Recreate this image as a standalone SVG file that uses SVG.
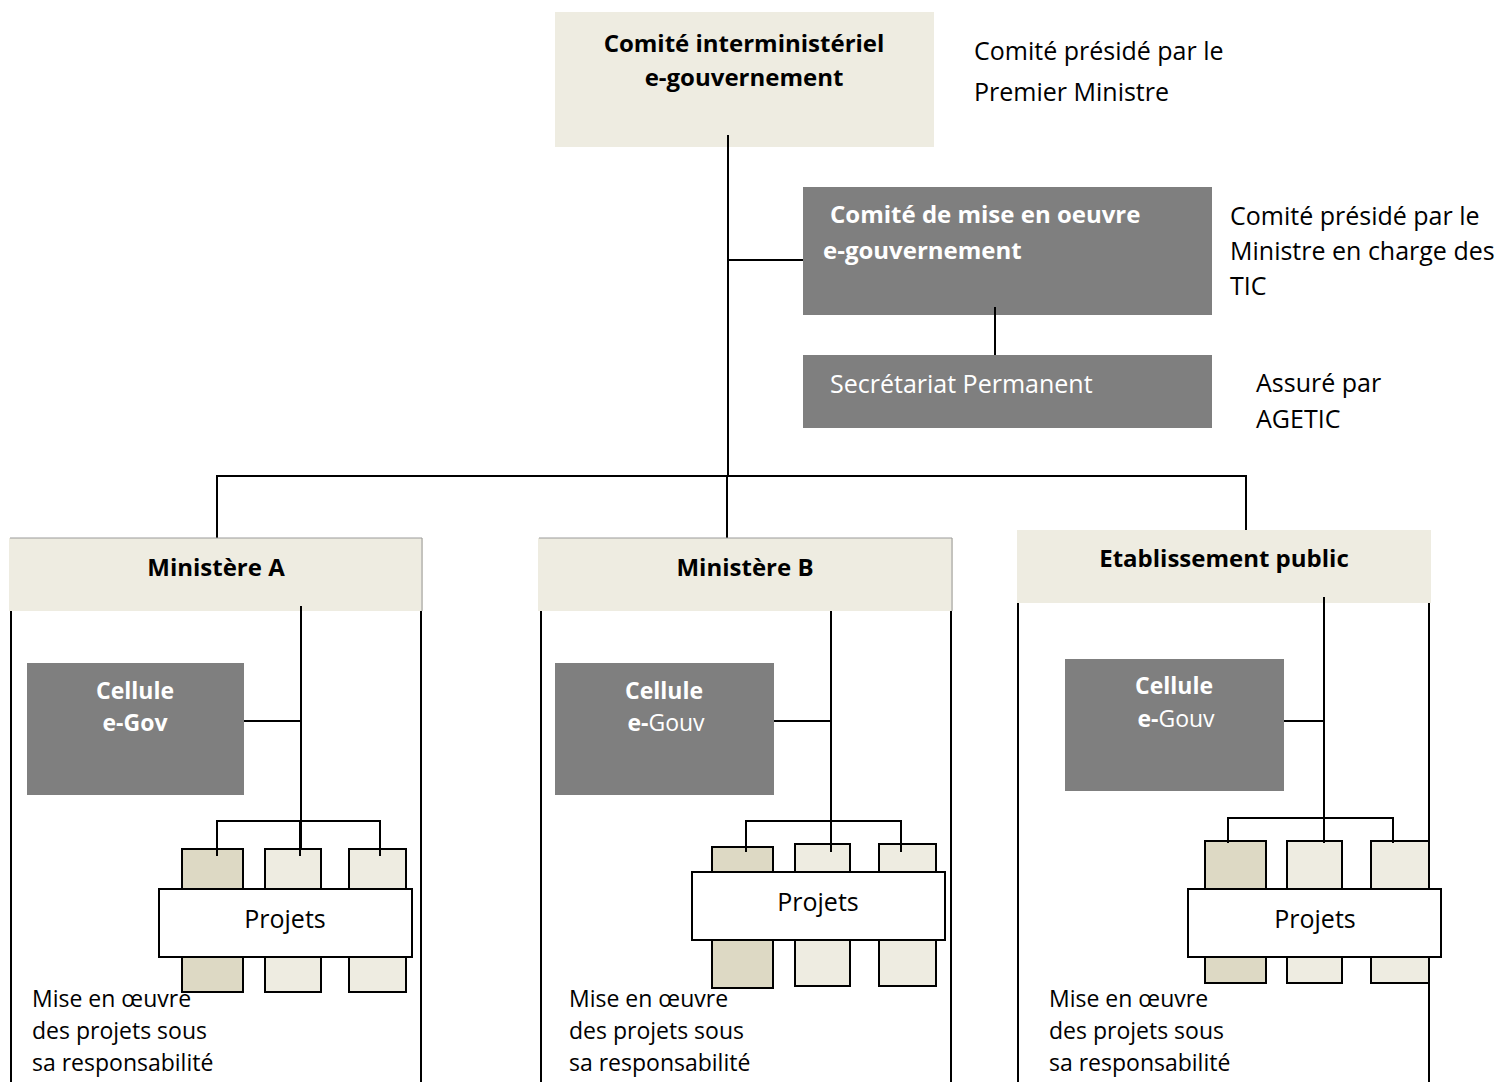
<svg xmlns="http://www.w3.org/2000/svg" width="1511" height="1082" viewBox="0 0 1511 1082">
<style>
  .light { fill: #EEECE1; }
  .dark { fill: #7F7F7F; }
  .proj1 { fill: #DDD9C4; stroke: #000; stroke-width: 2; }
  .proj2 { fill: #EEECE1; stroke: #000; stroke-width: 2; }
  .projbox { fill: #FFFFFF; stroke: #000; stroke-width: 2; }
  .ln { stroke: #000; stroke-width: 2; fill: none; }
  .hdrline { stroke: #9A9A9A; stroke-width: 1; fill: none; }
  text { font-family: "Open Sans", "Liberation Sans", sans-serif; }
  .hb { font-size: 24px; font-weight: bold; fill: #000; }
  .wb { font-size: 24px; font-weight: bold; fill: #FFF; }
  .cb { font-size: 23px; font-weight: bold; fill: #FFF; }
  .cr { font-weight: normal; }
  .wr { font-size: 25px; fill: #FFF; }
  .note { font-size: 25px; fill: #000; }
  .pj { font-size: 25px; fill: #000; }
  .sm { font-size: 23px; fill: #000; }
</style>

<g id="connectors">
  <line class="ln" x1="728" y1="135" x2="728" y2="476"/>
  <line class="ln" x1="728" y1="260" x2="803" y2="260"/>
  <line class="ln" x1="995" y1="307" x2="995" y2="355"/>
  <line class="ln" x1="216" y1="476" x2="1247" y2="476"/>
  <line class="ln" x1="217" y1="475" x2="217" y2="540"/>
  <line class="ln" x1="727" y1="475" x2="727" y2="540"/>
  <line class="ln" x1="1246" y1="475" x2="1246" y2="531"/>
</g>

<g id="comite-interministeriel">
  <rect class="light" x="555" y="12" width="379" height="135"/>
  <line class="ln" x1="728" y1="135" x2="728" y2="147"/>
  <text class="hb" x="744" y="52" text-anchor="middle">Comité interministériel</text>
  <text class="hb" x="744" y="86" text-anchor="middle">e-gouvernement</text>
</g>

<g id="note-premier-ministre">
  <text class="note" x="974" y="60">Comité présidé par le</text>
  <text class="note" x="974" y="101">Premier Ministre</text>
</g>

<g id="comite-mise-en-oeuvre">
  <rect class="dark" x="803" y="187" width="409" height="128"/>
  <line class="ln" x1="995" y1="307" x2="995" y2="315"/>
  <text class="wb" x="830" y="223">Comité de mise en oeuvre</text>
  <text class="wb" x="823" y="259">e-gouvernement</text>
</g>

<g id="note-ministre-tic">
  <text class="note" x="1230" y="225">Comité présidé par le</text>
  <text class="note" x="1230" y="260">Ministre en charge des</text>
  <text class="note" x="1230" y="295">TIC</text>
</g>

<g id="secretariat-permanent">
  <rect class="dark" x="803" y="355" width="409" height="73"/>
  <text class="wr" x="830" y="393">Secrétariat Permanent</text>
</g>

<g id="note-agetic">
  <text class="note" x="1256" y="392">Assuré par</text>
  <text class="note" x="1256" y="428">AGETIC</text>
</g>

<!-- Ministère A -->
<g id="ministere-a">
  <rect class="light" x="9" y="538" width="414" height="73"/>
  <line class="hdrline" x1="10" y1="538" x2="422" y2="538"/>
  <line class="hdrline" x1="422" y1="538" x2="422" y2="611"/>
  <text class="hb" x="216" y="576" text-anchor="middle">Ministère A</text>
  <line class="ln" x1="11" y1="611" x2="11" y2="1082"/>
  <line class="ln" x1="421" y1="611" x2="421" y2="1082"/>
  <line class="ln" x1="301" y1="606" x2="301" y2="851"/>
  <line class="ln" x1="244" y1="721" x2="301" y2="721"/>
  <polyline class="ln" points="217,851 217,821 380,821 380,851"/>
  <g id="cellule-a">
    <rect class="dark" x="27" y="663" width="217" height="132"/>
    <text class="cb" x="135" y="699" text-anchor="middle">Cellule</text>
    <text class="cb" x="135" y="731" text-anchor="middle">e-Gov</text>
  </g>
  <g id="projets-a">
    <rect class="proj1" x="182" y="849" width="61" height="143"/>
    <rect class="proj2" x="265" y="849" width="56" height="143"/>
    <rect class="proj2" x="349" y="849" width="57" height="143"/>
    <line class="ln" x1="217" y1="821" x2="217" y2="856"/>
    <line class="ln" x1="300" y1="821" x2="300" y2="856"/>
    <line class="ln" x1="380" y1="821" x2="380" y2="856"/>
    <rect class="projbox" x="159" y="889" width="253" height="68"/>
    <text class="pj" x="285" y="928" text-anchor="middle">Projets</text>
  </g>
  <text class="sm" x="32" y="1007">Mise en œuvre</text>
  <text class="sm" x="32" y="1039">des projets sous</text>
  <text class="sm" x="32" y="1071">sa responsabilité</text>
</g>

<!-- Ministère B -->
<g id="ministere-b">
  <rect class="light" x="538" y="538" width="415" height="73"/>
  <line class="hdrline" x1="539" y1="538" x2="952" y2="538"/>
  <line class="hdrline" x1="952" y1="538" x2="952" y2="611"/>
  <text class="hb" x="745" y="576" text-anchor="middle">Ministère B</text>
  <line class="ln" x1="541" y1="611" x2="541" y2="1082"/>
  <line class="ln" x1="951" y1="611" x2="951" y2="1082"/>
  <line class="ln" x1="831" y1="611" x2="831" y2="852"/>
  <line class="ln" x1="774" y1="721" x2="831" y2="721"/>
  <g id="cellule-b">
    <rect class="dark" x="555" y="663" width="219" height="132"/>
    <text class="cb" x="664" y="699" text-anchor="middle">Cellule</text>
    <text class="cb" x="666" y="731" text-anchor="middle">e-<tspan class="cr">Gouv</tspan></text>
  </g>
  <g id="projets-b">
    <rect class="proj1" x="712" y="847" width="61" height="141"/>
    <rect class="proj2" x="795" y="844" width="55" height="142"/>
    <rect class="proj2" x="879" y="844" width="57" height="142"/>
    <polyline class="ln" points="746,852 746,821 901,821 901,852"/>
    <line class="ln" x1="831" y1="821" x2="831" y2="852"/>
    <rect class="projbox" x="692" y="872" width="253" height="68"/>
    <text class="pj" x="818" y="911" text-anchor="middle">Projets</text>
  </g>
  <text class="sm" x="569" y="1007">Mise en œuvre</text>
  <text class="sm" x="569" y="1039">des projets sous</text>
  <text class="sm" x="569" y="1071">sa responsabilité</text>
</g>

<!-- Etablissement public -->
<g id="etablissement-public">
  <rect class="light" x="1017" y="530" width="414" height="73"/>
  <text class="hb" x="1224" y="567" text-anchor="middle">Etablissement public</text>
  <line class="ln" x1="1018" y1="603" x2="1018" y2="1082"/>
  <line class="ln" x1="1429" y1="603" x2="1429" y2="1082"/>
  <line class="ln" x1="1324" y1="597" x2="1324" y2="843"/>
  <line class="ln" x1="1284" y1="721" x2="1324" y2="721"/>
  <g id="cellule-c">
    <rect class="dark" x="1065" y="659" width="219" height="132"/>
    <text class="cb" x="1174" y="694" text-anchor="middle">Cellule</text>
    <text class="cb" x="1176" y="727" text-anchor="middle">e-<tspan class="cr">Gouv</tspan></text>
  </g>
  <g id="projets-c">
    <rect class="proj1" x="1205" y="841" width="61" height="142"/>
    <rect class="proj2" x="1287" y="841" width="55" height="142"/>
    <rect class="proj2" x="1371" y="841" width="58" height="142"/>
    <polyline class="ln" points="1228,843 1228,818 1393,818 1393,843"/>
    <line class="ln" x1="1324" y1="818" x2="1324" y2="843"/>
    <rect class="projbox" x="1188" y="889" width="253" height="68"/>
    <text class="pj" x="1315" y="928" text-anchor="middle">Projets</text>
  </g>
  <text class="sm" x="1049" y="1007">Mise en œuvre</text>
  <text class="sm" x="1049" y="1039">des projets sous</text>
  <text class="sm" x="1049" y="1071">sa responsabilité</text>
</g>
</svg>
